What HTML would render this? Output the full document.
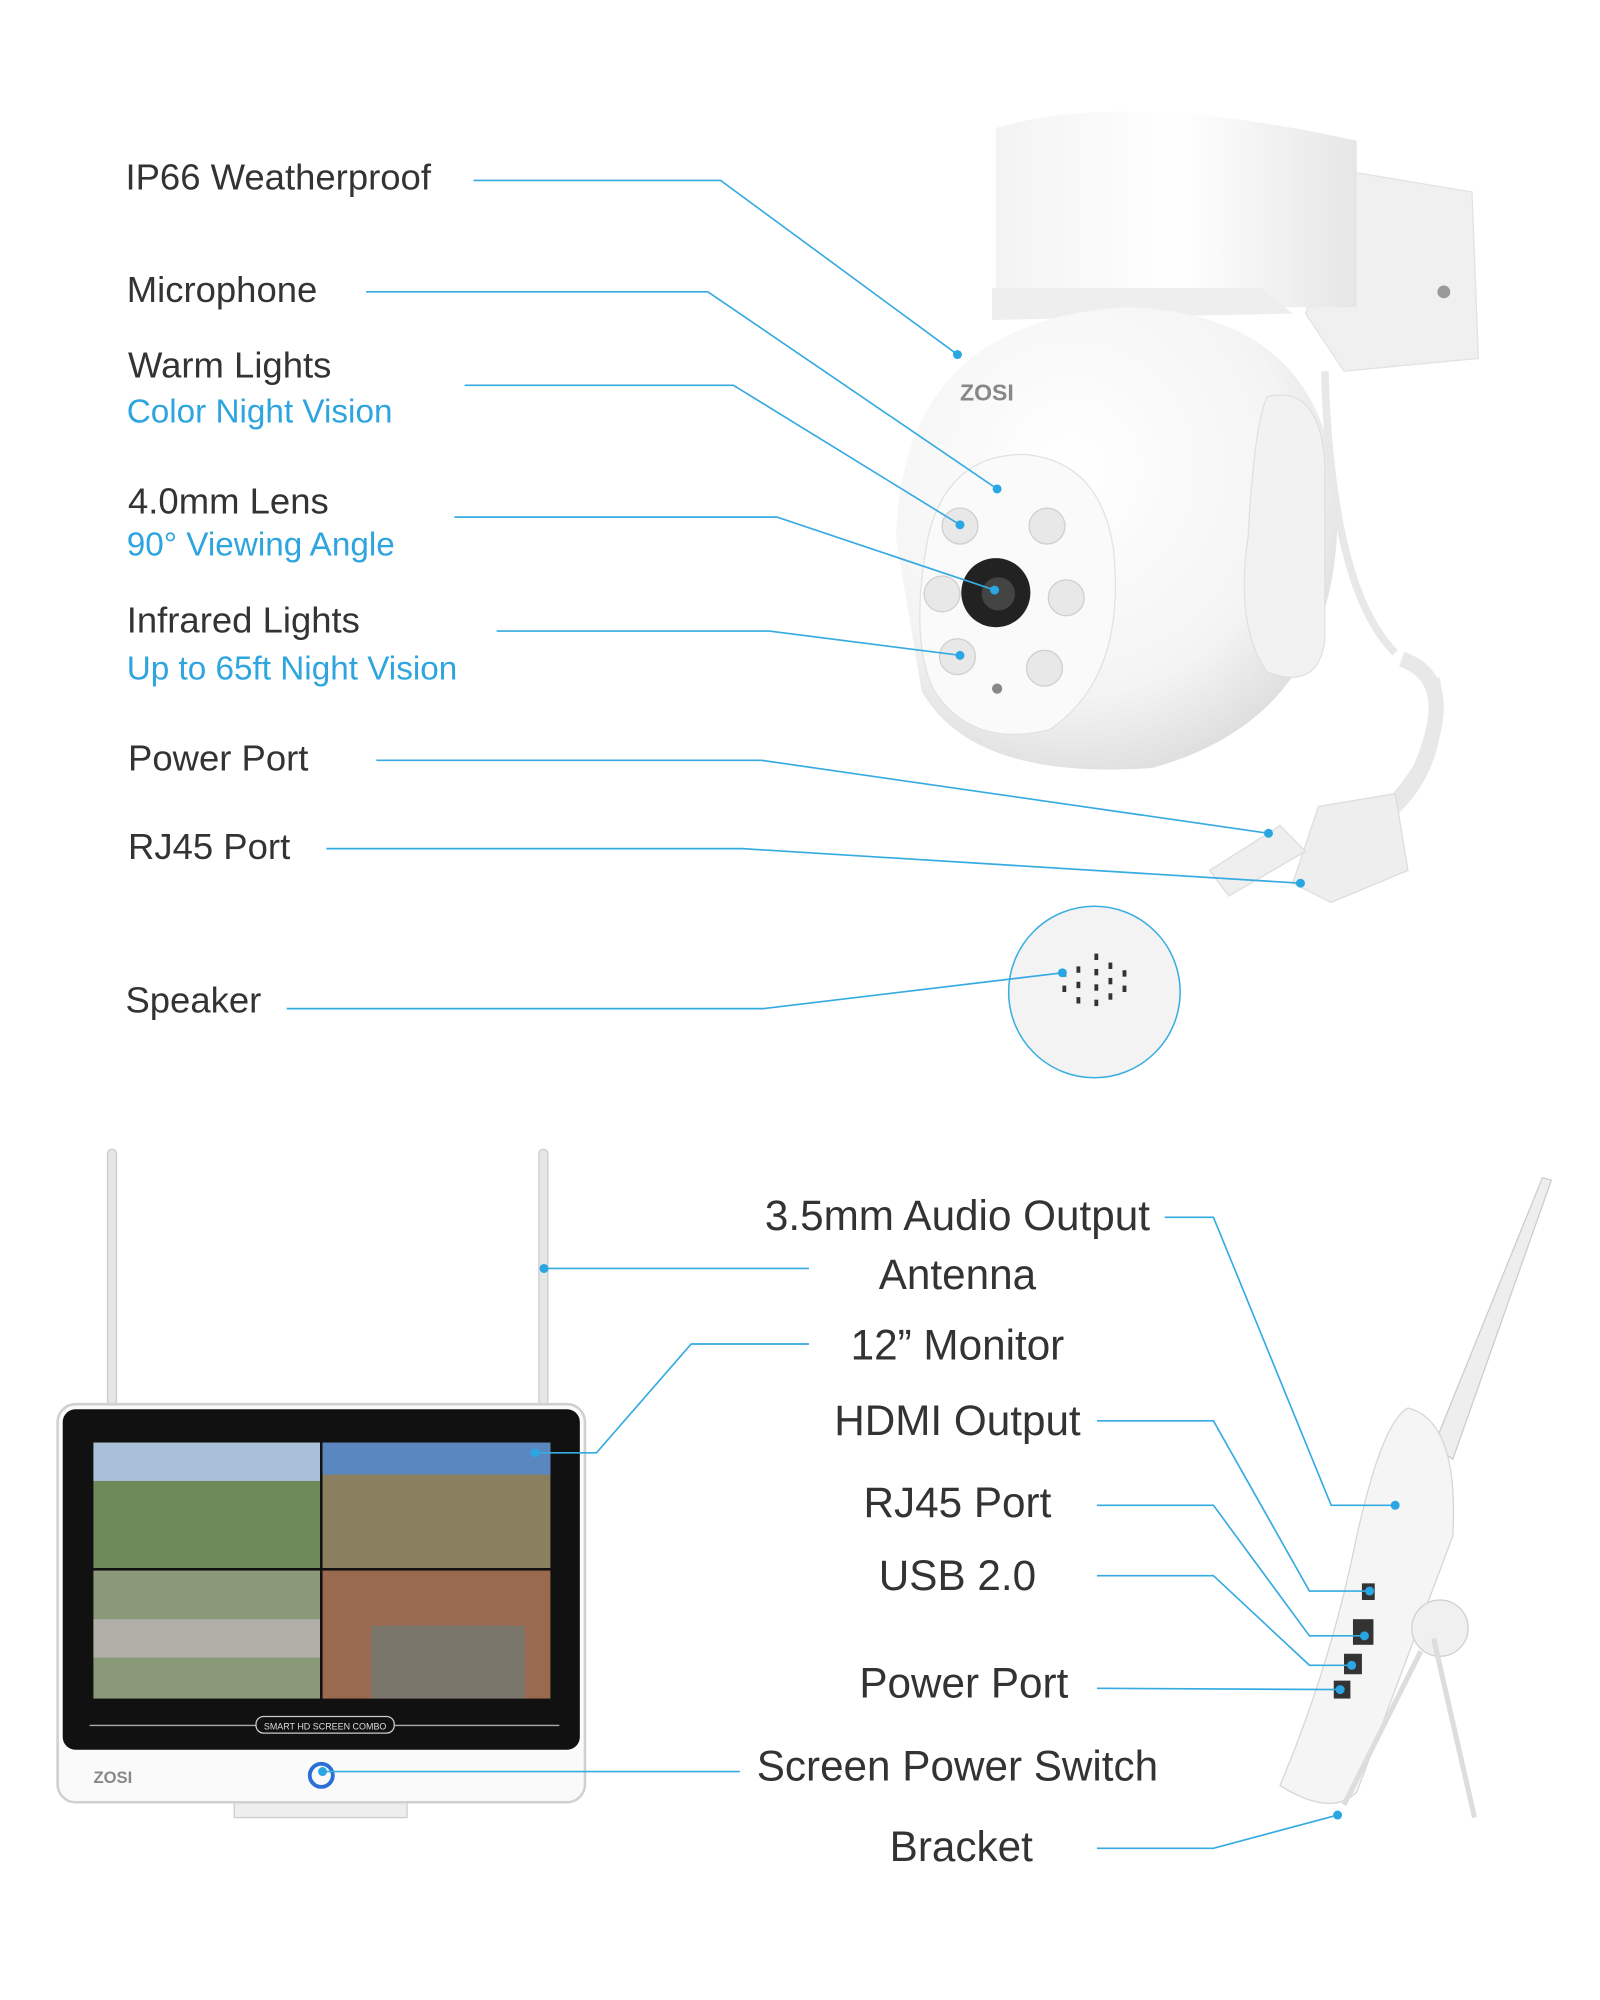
<!DOCTYPE html>
<html><head><meta charset="utf-8"><style>
html,body{margin:0;padding:0;background:#fff;}
#wrap{width:1600px;height:2000px;overflow:hidden;position:relative;}
#s{position:absolute;left:0;top:0;width:1250px;height:1563px;transform:scale(1.28);transform-origin:0 0;}
svg{position:absolute;left:0;top:0;}
.t{position:absolute;font-family:"Liberation Sans",sans-serif;color:#333;white-space:nowrap;line-height:1;}
.a{font-size:28.5px;}
.b{font-size:26px;color:#2ea5df;}
.c{font-size:33px;}
.cc{transform:translateX(-50%);}
</style></head><body><div id="wrap"><div id="s">
<svg width="1250" height="1563" viewBox="0 0 1250 1563">
<defs>
<radialGradient id="dome" cx="40%" cy="35%" r="70%"><stop offset="0" stop-color="#fff"/><stop offset="0.7" stop-color="#f4f4f4"/><stop offset="1" stop-color="#dcdcdc"/></radialGradient>
<linearGradient id="mt" x1="0" x2="1"><stop offset="0" stop-color="#f3f3f3"/><stop offset="0.5" stop-color="#fff"/><stop offset="1" stop-color="#e6e6e6"/></linearGradient>
</defs>
<path d="M1060 135 L1150 150 L1155 280 L1050 290 L1020 245 Z" fill="#f0f0f0" stroke="#e2e2e2"/>
<circle cx="1128" cy="228" r="5" fill="#999"/>
<path d="M778 100 Q880 70 1060 110 L1060 240 L778 240 Z" fill="url(#mt)"/>
<path d="M775 225 L985 225 L1010 245 L775 250 Z" fill="#eeeeee"/>
<path d="M700 420 Q705 250 880 240 Q1040 245 1045 400 Q1045 560 900 600 Q760 610 720 540 Z" fill="url(#dome)"/>
<path d="M990 310 Q1030 300 1035 360 L1035 500 Q1030 540 990 525 Q965 490 975 420 Q980 330 990 310Z" fill="#f2f2f2" stroke="#e0e0e0"/>
<path d="M1035 290 Q1040 460 1090 510" fill="none" stroke="#e8e8e8" stroke-width="6"/>
<path d="M1095 515 Q1140 530 1110 600 Q1080 650 1020 670" fill="none" stroke="#e8e8e8" stroke-width="12"/>
<path d="M1120 530 Q1130 600 1080 640" fill="none" stroke="#e8e8e8" stroke-width="10"/>
<path d="M1030 630 L1090 620 L1100 680 L1040 705 L1010 690 Z" fill="#eeeeee" stroke="#ddd"/>
<path d="M945 680 L1000 645 L1020 665 L960 700 Z" fill="#efefef" stroke="#ddd"/>
<text x="750" y="313" font-family="Liberation Sans,sans-serif" font-size="18" font-weight="bold" fill="#888">ZOSI</text>
<path d="M725 420 Q740 355 800 355 Q860 360 870 430 Q880 530 820 570 Q760 585 730 540 Q710 500 725 420Z" fill="#fafafa" stroke="#e2e2e2"/>
<g fill="#e8e8e8" stroke="#cfcfcf"><circle cx="750" cy="411" r="14"/><circle cx="818" cy="411" r="14"/><circle cx="736" cy="464" r="14"/><circle cx="833" cy="467" r="14"/><circle cx="748" cy="513" r="14"/><circle cx="816" cy="522" r="14"/></g>
<circle cx="778" cy="463" r="27" fill="#222"/><circle cx="780" cy="464" r="13" fill="#444"/>
<circle cx="779" cy="538" r="4" fill="#888"/>
<circle cx="855" cy="775" r="67" fill="#f3f3f3" stroke="#3aaee2" stroke-width="1.2"/>
<g fill="#333"><rect x="830" y="758" width="3" height="5"/><rect x="830" y="770" width="3" height="5"/><rect x="841" y="755" width="3" height="5"/><rect x="841" y="767" width="3" height="5"/><rect x="841" y="779" width="3" height="5"/><rect x="855" y="745" width="3" height="5"/><rect x="855" y="757" width="3" height="5"/><rect x="855" y="769" width="3" height="5"/><rect x="855" y="781" width="3" height="5"/><rect x="866" y="752" width="3" height="5"/><rect x="866" y="764" width="3" height="5"/><rect x="866" y="776" width="3" height="5"/><rect x="877" y="758" width="3" height="5"/><rect x="877" y="770" width="3" height="5"/></g>
<rect x="84" y="898" width="7" height="200" rx="3" fill="#e6e6e6" stroke="#ccc"/>
<rect x="421" y="898" width="7" height="200" rx="3" fill="#e6e6e6" stroke="#ccc"/>
<rect x="183" y="1405" width="135" height="15" fill="#eee" stroke="#ccc"/>
<rect x="45" y="1097" width="412" height="311" rx="14" fill="#fafafa" stroke="#d0d0d0" stroke-width="2"/>
<rect x="49" y="1101" width="404" height="266" rx="10" fill="#111"/>
<rect x="73" y="1127" width="177" height="98" fill="#6f8a5a"/><rect x="73" y="1127" width="177" height="30" fill="#a8c0d8"/>
<rect x="252" y="1127" width="178" height="98" fill="#8a8060"/><rect x="252" y="1127" width="178" height="25" fill="#5b87c0"/>
<rect x="73" y="1227" width="177" height="100" fill="#8a9a78"/><rect x="73" y="1265" width="177" height="30" fill="#b0b0a8"/>
<rect x="252" y="1227" width="178" height="100" fill="#9a6a50"/><rect x="290" y="1270" width="120" height="57" fill="#7a756a"/>
<line x1="70" y1="1348" x2="437" y2="1348" stroke="#aaa"/>
<rect x="200" y="1341" width="108" height="13" rx="6" fill="#111" stroke="#ccc"/>
<text x="254" y="1351" text-anchor="middle" font-family="Liberation Sans,sans-serif" font-size="7" fill="#ddd">SMART HD SCREEN COMBO</text>
<text x="73" y="1393" font-family="Liberation Sans,sans-serif" font-size="13" font-weight="bold" fill="#888">ZOSI</text>
<circle cx="251" cy="1387" r="9" fill="none" stroke="#2a6fd6" stroke-width="3"/>
<path d="M1120 1130 L1205 920 L1212 922 L1135 1140 Z" fill="#eee" stroke="#ccc"/>
<path d="M1100 1100 Q1140 1110 1135 1200 L1060 1400 Q1040 1420 1000 1395 Q1040 1300 1060 1200 Q1080 1110 1100 1100Z" fill="#f5f5f5" stroke="#d6d6d6"/>
<circle cx="1125" cy="1272" r="22" fill="#f0f0f0" stroke="#d0d0d0"/>
<path d="M1120 1280 L1152 1420 M1110 1290 L1050 1410" stroke="#ddd" stroke-width="4"/>
<g fill="#333"><rect x="1064" y="1237" width="10" height="13"/><rect x="1057" y="1265" width="16" height="20"/><rect x="1050" y="1292" width="14" height="16"/><rect x="1042" y="1313" width="13" height="14"/></g>
<g fill="none" stroke="#36abe2" stroke-width="1.3">
<polyline points="370,141 563,141 748,277"/>
<polyline points="286,228 553,228 779,382"/>
<polyline points="363,301 573,301 750,410"/>
<polyline points="355,404 607,404 777,461"/>
<polyline points="388,493 601,493 750,512"/>
<polyline points="294,594 595,594 991,651"/>
<polyline points="255,663 580,663 1016,690"/>
<polyline points="224,788 596,788 830,760"/>
<polyline points="910,951 948,951 1040,1176 1090,1176"/>
<polyline points="632,991 425,991"/>
<polyline points="632,1050 540,1050 466,1135 418,1135"/>
<polyline points="857,1110 948,1110 1023,1243 1070,1243"/>
<polyline points="857,1176 948,1176 1023,1278 1066,1278"/>
<polyline points="857,1231 948,1231 1023,1301 1056,1301"/>
<polyline points="857,1319 1047,1320"/>
<polyline points="578,1384 252,1384"/>
<polyline points="857,1444 948,1444 1045,1418"/>
</g>
<g fill="#2aa6e2">
<circle cx="748" cy="277" r="3.5"/><circle cx="779" cy="382" r="3.5"/><circle cx="750" cy="410" r="3.5"/><circle cx="777" cy="461" r="3.5"/><circle cx="750" cy="512" r="3.5"/><circle cx="991" cy="651" r="3.5"/><circle cx="1016" cy="690" r="3.5"/><circle cx="830" cy="760" r="3.5"/>
<circle cx="1090" cy="1176" r="3.5"/><circle cx="425" cy="991" r="3.5"/><circle cx="418" cy="1135" r="3.5"/><circle cx="1070" cy="1243" r="3.5"/><circle cx="1066" cy="1278" r="3.5"/><circle cx="1056" cy="1301" r="3.5"/><circle cx="1047" cy="1320" r="3.5"/><circle cx="252" cy="1384" r="3.5"/><circle cx="1045" cy="1418" r="3.5"/>
</g>
</svg>
<div class="t a" style="left:98px;top:125px">IP66 Weatherproof</div>
<div class="t a" style="left:99px;top:213px">Microphone</div>
<div class="t a" style="left:100px;top:272px">Warm Lights</div>
<div class="t b" style="left:99px;top:308px">Color Night Vision</div>
<div class="t a" style="left:100px;top:378px">4.0mm Lens</div>
<div class="t b" style="left:99px;top:412px">90° Viewing Angle</div>
<div class="t a" style="left:99px;top:471px">Infrared Lights</div>
<div class="t b" style="left:99px;top:509px">Up to 65ft Night Vision</div>
<div class="t a" style="left:100px;top:579px">Power Port</div>
<div class="t a" style="left:100px;top:648px">RJ45 Port</div>
<div class="t a" style="left:98px;top:768px">Speaker</div>
<div class="t c cc" style="left:748px;top:933px">3.5mm Audio Output</div>
<div class="t c cc" style="left:748px;top:979px">Antenna</div>
<div class="t c cc" style="left:748px;top:1034px">12” Monitor</div>
<div class="t c cc" style="left:748px;top:1093px">HDMI Output</div>
<div class="t c cc" style="left:748px;top:1157px">RJ45 Port</div>
<div class="t c cc" style="left:748px;top:1214px">USB 2.0</div>
<div class="t c cc" style="left:753px;top:1298px">Power Port</div>
<div class="t c cc" style="left:748px;top:1363px">Screen Power Switch</div>
<div class="t c cc" style="left:751px;top:1426px">Bracket</div>
</div></div></body></html>
